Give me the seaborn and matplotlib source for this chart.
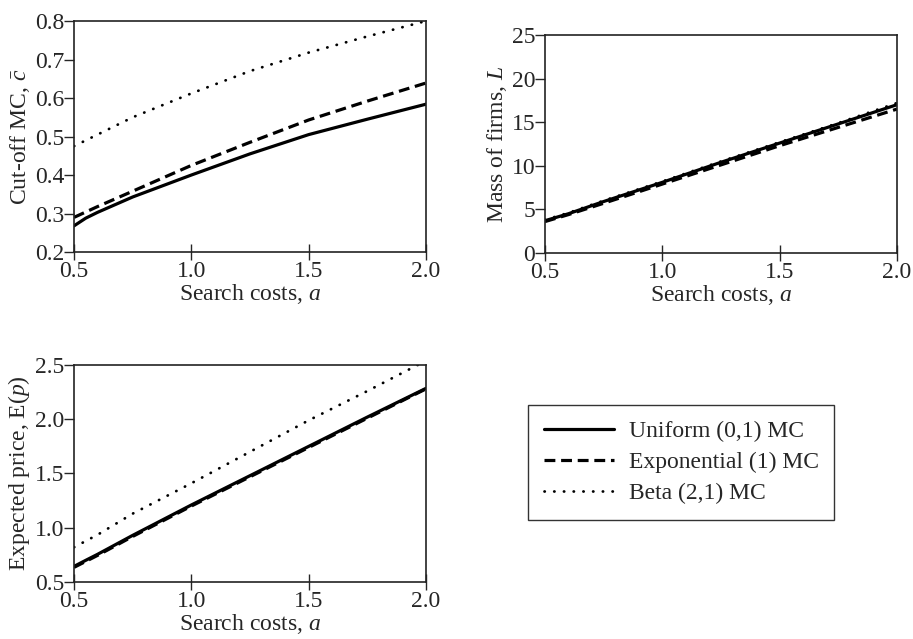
import seaborn as sns
import pandas as pd
import matplotlib
matplotlib.use("Agg")
import matplotlib.pyplot as plt

# search cost grid
a = [0.5, 0.55, 0.6, 0.75, 1.0, 1.25, 1.5, 1.75, 2.0]

# cut-off MC
cut_uniform = [0.268, 0.288, 0.303, 0.343, 0.400, 0.455, 0.505, 0.545, 0.584]
cut_expo = [0.290, 0.304, 0.318, 0.358, 0.425, 0.485, 0.543, 0.592, 0.639]
cut_beta = [0.475, 0.490, 0.505, 0.550, 0.612, 0.670, 0.718, 0.760, 0.800]

# mass of firms
mass_uniform = [3.7, 4.1, 4.5, 5.9, 8.1, 10.4, 12.6, 14.8, 17.0]
mass_expo = [3.6, 4.0, 4.4, 5.7, 7.9, 10.1, 12.3, 14.4, 16.5]
mass_beta = [3.8, 4.2, 4.6, 6.0, 8.2, 10.5, 12.7, 14.9, 17.2]

# expected price
price_uniform = [0.644, 0.70, 0.755, 0.93, 1.21, 1.48, 1.75, 2.02, 2.285]
price_expo = [0.635, 0.69, 0.745, 0.92, 1.20, 1.47, 1.74, 2.01, 2.28]
price_beta = [0.82, 0.878, 0.935, 1.13, 1.41, 1.70, 1.99, 2.26, 2.54]

names = ["Uniform (0,1) MC", "Exponential (1) MC", "Beta (2,1) MC"]
xticks = [0.5, 1.0, 1.5, 2.0]

sns.set_style("ticks")
plt.rcParams["font.family"] = ["Liberation Serif", "DejaVu Serif"]
plt.rcParams["mathtext.fontset"] = "custom"
plt.rcParams["mathtext.rm"] = "Liberation Serif"
plt.rcParams["mathtext.it"] = "Liberation Serif:italic"

styles = {
    names[0]: dict(linestyle="-", linewidth=2.3),
    names[1]: dict(linestyle=(0, (3.4, 1.8)), linewidth=2.3),
    names[2]: dict(linestyle=(0, (0.1, 3.4)), linewidth=2.0, dash_capstyle="round"),
}

fs = 17

fig = plt.figure(figsize=(9.13, 6.39), dpi=100)
ax1 = fig.add_axes([0.0811, 0.6056, 0.3855, 0.3615])
ax2 = fig.add_axes([0.5969, 0.6041, 0.3855, 0.3412])
ax3 = fig.add_axes([0.0811, 0.0892, 0.3855, 0.3396])

panels = [
    (ax1, [cut_uniform, cut_expo, cut_beta], "Cut-off MC, $\\bar{c}$", (0.2, 0.8),
     [0.2, 0.3, 0.4, 0.5, 0.6, 0.7, 0.8], "{:.1f}"),
    (ax2, [mass_uniform, mass_expo, mass_beta], "Mass of firms, $L$", (0, 25),
     [0, 5, 10, 15, 20, 25], "{:d}"),
    (ax3, [price_uniform, price_expo, price_beta], "Expected price, E($p$)", (0.5, 2.5),
     [0.5, 1.0, 1.5, 2.0, 2.5], "{:.1f}"),
]

for ax, series, ylab, ylim, yticks, fmt in panels:
    # beta first so the solid/dashed lines sit on top
    for name, vals in reversed(list(zip(names, series))):
        df = pd.DataFrame({"a": a, "v": vals})
        sns.lineplot(data=df, x="a", y="v", ax=ax, color="black", label=name,
                     legend=False, **styles[name])
    ax.set_xlim(0.5, 2.0)
    ax.set_ylim(*ylim)
    ax.set_xticks(xticks)
    ax.set_xticklabels([f"{t:.1f}" for t in xticks])
    ax.set_yticks(yticks)
    ax.set_yticklabels([fmt.format(t) for t in yticks])
    ax.set_xlabel("Search costs, $a$", fontsize=fs, labelpad=0)
    ax.set_ylabel(ylab, fontsize=fs, labelpad=2)
    ax.tick_params(axis="x", direction="inout", length=11, width=1.0,
                   labelsize=fs, pad=1)
    ax.tick_params(axis="y", direction="out", length=7, width=1.0,
                   labelsize=fs, pad=0)
    for sp in ax.spines.values():
        sp.set_linewidth(1.2)
        sp.set_color("#222222")

h, l = ax1.get_legend_handles_labels()
order = [l.index(n) for n in names]
leg = fig.legend([h[i] for i in order], [l[i] for i in order],
                 loc="center", bbox_to_anchor=(0.7459, 0.2762),
                 fontsize=fs, frameon=True, fancybox=False, edgecolor="black",
                 handlelength=3.0, handletextpad=0.6, labelspacing=0.4,
                 borderpad=0.65, borderaxespad=0)
leg.get_frame().set_linewidth(1.0)

fig.savefig("out.png", dpi=100)
